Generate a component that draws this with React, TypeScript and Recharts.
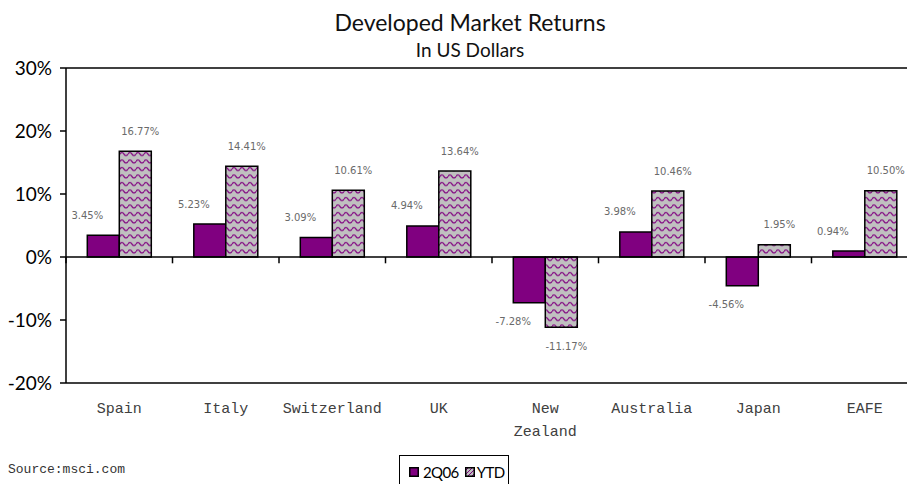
import React from 'react';
import { BarChart, Bar, XAxis, YAxis, ReferenceLine, LabelList, Legend } from 'recharts';

const CATEGORIES = ['Spain', 'Italy', 'Switzerland', 'UK', 'New Zealand', 'Australia', 'Japan', 'EAFE'];
const Q2_2006 = [3.45, 5.23, 3.09, 4.94, -7.28, 3.98, -4.56, 0.94];
const YTD = [16.77, 14.41, 10.61, 13.64, -11.17, 10.46, 1.95, 10.5];
const Y_TICKS = [-20, -10, 0, 10, 20, 30];

const PURPLE = '#800080';
const HATCH_BG = '#c0c0c0';

const data = CATEGORIES.map((name, i) => ({ name, q2: Q2_2006[i], ytd: YTD[i] }));

function makeLabel(dx: number) {
  return (props: any) => {
    const { x, y, width, height, value } = props;
    const top = Math.min(y, y + height);
    const bottom = Math.max(y, y + height);
    const cx = x + width / 2 + dx;
    const cy = value >= 0 ? top - 20 : bottom + 19;
    return (
      <text x={cx} y={cy} dy="0.35em" textAnchor="middle" fontFamily="DejaVu Sans" fontSize={10} fill="#6a6a6a">
        {Number(value).toFixed(2)}%
      </text>
    );
  };
}

function CategoryTick({ x, y, payload }: any) {
  const lines = String(payload.value).split(' ');
  return (
    <g transform={`translate(${x},${y})`}>
      {lines.map((line, i) => (
        <text key={i} x={0} y={0} dy={30 + i * 23} textAnchor="middle" fontFamily="Liberation Mono" fontSize={15} fill="#404040">
          {line}
        </text>
      ))}
    </g>
  );
}

function WaveSwatch() {
  return (
    <svg width={10} height={10} style={{ display: 'block' }}>
      <defs>
        <pattern id="waveLegend" width={4} height={4} patternUnits="userSpaceOnUse">
          <rect width={4} height={4} fill={HATCH_BG} />
          <path d="M0 4 L4 0" stroke={PURPLE} strokeWidth={1} />
        </pattern>
      </defs>
      <rect x={0.75} y={0.75} width={8.5} height={8.5} fill="url(#waveLegend)" stroke="#000" strokeWidth={1.5} />
    </svg>
  );
}

function LegendBox() {
  return (
    <div
      style={{
        display: 'flex',
        alignItems: 'center',
        border: '1px solid #000',
        background: '#fff',
        padding: '6px 3px 14px 9px',
        fontFamily: 'Lato',
        fontSize: 15,
        letterSpacing: '-0.6px',
        color: '#000',
        lineHeight: '20px',
      }}
    >
      <svg width={10} height={10} style={{ display: 'block' }}>
        <rect x={0.75} y={0.75} width={8.5} height={8.5} fill={PURPLE} stroke="#000" strokeWidth={1.5} />
      </svg>
      <span style={{ marginLeft: 4, marginRight: 6 }}>2Q06</span>
      <WaveSwatch />
      <span style={{ marginLeft: 2 }}>YTD</span>
    </div>
  );
}

export default function App() {
  return (
    <div style={{ position: 'fixed', left: 0, top: 0, width: 907, height: 484, overflow: 'hidden', background: '#fff' }}>
      <div style={{ position: 'absolute', left: 0, top: 8, width: 940, textAlign: 'center', fontFamily: 'Lato', fontSize: 23, lineHeight: '28px', color: '#111' }}>
        Developed Market Returns
      </div>
      <div style={{ position: 'absolute', left: 0, top: 38, width: 940, textAlign: 'center', fontFamily: 'Lato', fontSize: 19, lineHeight: '24px', color: '#111' }}>
        In US Dollars
      </div>
      <div style={{ position: 'absolute', left: 0, top: 0 }}>
        <BarChart
          width={940}
          height={484}
          data={data}
          margin={{ top: 68, right: 22, bottom: 31, left: 0 }}
          barCategoryGap="20%"
          barGap={0}
        >
          <defs>
            <pattern id="wave" width={8} height={7.5} patternUnits="userSpaceOnUse">
              <rect width={8} height={7.5} fill={HATCH_BG} />
              <path d="M0 4 Q2 1 4 4 T8 4" fill="none" stroke={PURPLE} strokeWidth={1.3} />
            </pattern>
          </defs>
          <XAxis
            dataKey="name"
            interval={0}
            height={70}
            tickLine={false}
            tickSize={0}
            tickMargin={0}
            axisLine={{ stroke: '#000', strokeWidth: 1.5 }}
            tick={<CategoryTick />}
          />
          <YAxis
            width={66}
            domain={[-20, 30]}
            ticks={Y_TICKS}
            tickFormatter={(v: number) => `${v}%`}
            tickSize={6}
            tickMargin={8}
            tickLine={{ stroke: '#000', strokeWidth: 1.5 }}
            axisLine={{ stroke: '#000', strokeWidth: 1.5 }}
            tick={{ fontFamily: 'Lato', fontSize: 19, fill: '#000' }}
          />
          <Bar dataKey="q2" name="2Q06" fill={PURPLE} stroke="#000" strokeWidth={1.5} isAnimationActive={false}>
            <LabelList dataKey="q2" content={makeLabel(-16)} />
          </Bar>
          <Bar dataKey="ytd" name="YTD" fill="url(#wave)" stroke="#000" strokeWidth={1.5} isAnimationActive={false}>
            <LabelList dataKey="ytd" content={makeLabel(5)} />
          </Bar>
          <ReferenceLine y={30} stroke="#000" strokeWidth={1.5} />
          <ReferenceLine y={0} stroke="#000" strokeWidth={1.5} />
          {CATEGORIES.map((c) => (
            <ReferenceLine key={c} segment={[{ x: c, y: 0 }, { x: c, y: -1 }]} position="start" stroke="#000" strokeWidth={1.5} />
          ))}
          <Legend
            verticalAlign="middle"
            align="center"
            wrapperStyle={{ left: 399, top: 455, width: 'auto', height: 'auto' }}
            content={() => <LegendBox />}
          />
        </BarChart>
      </div>
      <div style={{ position: 'absolute', left: 8, top: 462, fontFamily: 'Liberation Mono', fontSize: 13, lineHeight: '16px', color: '#333' }}>
        Source:msci.com
      </div>
    </div>
  );
}
